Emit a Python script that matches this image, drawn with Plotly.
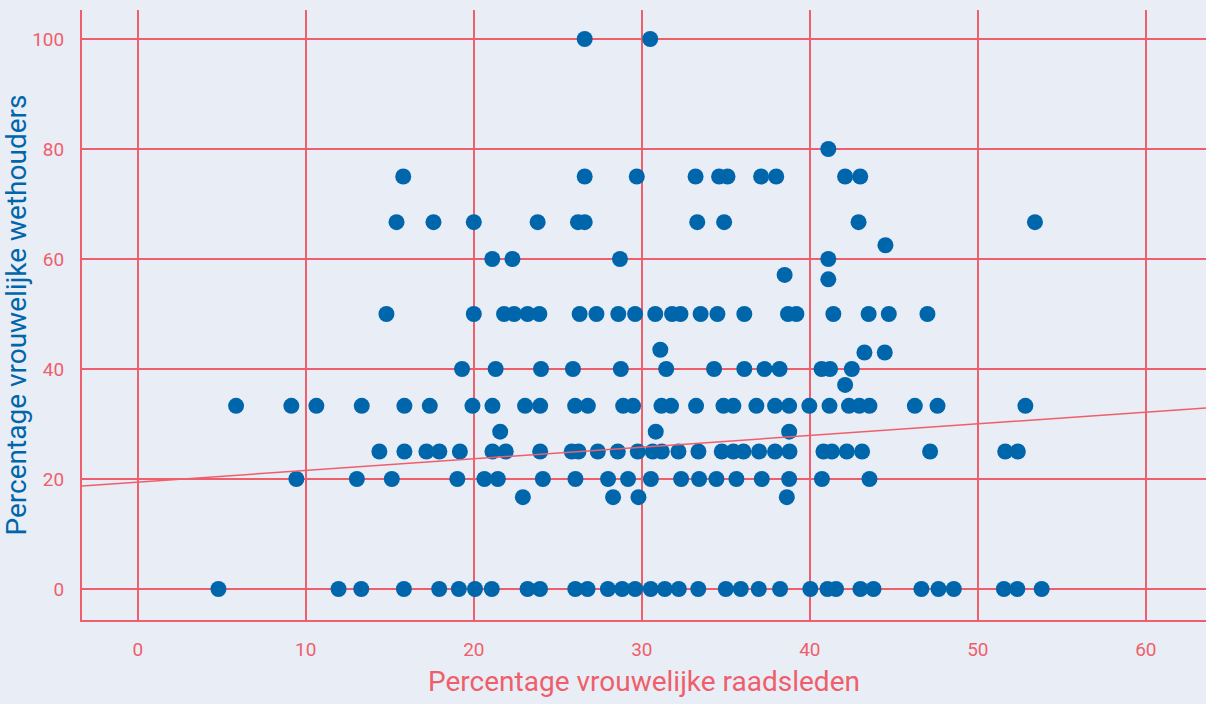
import plotly.graph_objects as go

# ---- data ----
x_at_100 = [26.6, 30.5]
x_at_80 = [41.1]
x_at_75 = [15.8, 26.6, 29.7, 33.2, 34.6, 35.1, 37.1, 38.0, 42.1, 43.0]
x_at_66 = [15.4, 17.6, 20.0, 23.8, 26.2, 26.6, 33.3, 34.9, 42.9, 53.4]
x_at_62 = [44.5]
x_at_60 = [21.1, 22.3, 28.7, 41.1]
x_at_57 = [38.5]
x_at_56 = [41.1]
x_at_50 = [14.8, 20.0, 21.8, 22.4, 23.2, 23.9, 26.3, 27.3, 28.6, 29.6, 30.8,
           31.8, 32.3, 33.5, 34.5, 36.1, 38.7, 39.2, 41.4, 43.5, 44.7, 47.0]
x_at_435 = [31.1]
x_at_43 = [43.25, 44.46]
x_at_40 = [19.3, 21.3, 24.0, 25.9, 28.75, 31.45, 34.3, 36.1, 37.3, 38.2, 40.7, 41.2, 42.5]
x_at_37 = [42.1]
x_at_33 = [5.85, 9.14, 10.63, 13.33, 15.87, 17.38, 19.92, 21.11, 23.05, 23.95,
           26.03, 26.79, 28.89, 29.48, 31.17, 31.74, 33.23, 34.86, 35.45, 36.82,
           37.93, 38.77, 39.97, 41.17, 42.33, 42.95, 43.55, 46.25, 47.6, 52.83]
x_at_28 = [21.57, 30.83, 38.77]
x_at_25 = [14.38, 15.87, 17.18, 17.95, 19.17, 21.11, 21.9, 23.95, 25.83, 26.23,
           27.38, 28.57, 29.76, 30.65, 31.19, 32.18, 33.37, 34.76, 35.45, 36.05,
           36.98, 37.93, 38.79, 40.81, 41.31, 42.2, 43.11, 47.16, 51.63, 52.38]
x_at_20 = [9.44, 13.04, 15.12, 19.02, 20.63, 21.43, 24.11, 26.05, 27.99, 29.18,
           30.54, 32.34, 33.41, 34.44, 35.63, 37.14, 38.77, 40.72, 43.55]
x_at_16 = [22.92, 28.29, 29.8, 38.63]
x_at_0 = [4.8, 11.95, 13.3, 15.84, 17.94, 19.11, 20.07, 21.07, 23.2, 23.94, 26.04,
          26.77, 27.98, 28.83, 29.6, 30.53, 31.37, 32.2, 33.36, 35.0, 35.89, 36.96,
          38.23, 40.03, 41.05, 41.56, 43.01, 43.79, 46.64, 47.66, 48.57, 51.55,
          52.35, 53.8]

levels = [
    (100, x_at_100), (80, x_at_80), (75, x_at_75), (66.7, x_at_66), (62.5, x_at_62),
    (60, x_at_60), (57.1, x_at_57), (56.3, x_at_56), (50, x_at_50), (43.5, x_at_435),
    (43, x_at_43), (40, x_at_40), (37.1, x_at_37), (33.3, x_at_33), (28.6, x_at_28),
    (25, x_at_25), (20, x_at_20), (16.7, x_at_16), (0, x_at_0),
]

pct_raadsleden = []
pct_wethouders = []
for yv, xs in levels:
    pct_raadsleden += xs
    pct_wethouders += [yv] * len(xs)

trend_intercept = 19.43
trend_slope = 0.212
x_range = [-3.32, 63.58]
y_range = [-5.64, 105.27]
trend_x = x_range
trend_y = [trend_intercept + trend_slope * v for v in trend_x]

x_ticks = [0, 10, 20, 30, 40, 50, 60]
y_ticks = [0, 20, 40, 60, 80, 100]

RED = "#EF5F6B"
BLUE = "#0066AB"
BG = "#E9EDF6"
FONT = "Roboto"

fig = go.Figure()
fig.add_trace(go.Scatter(
    x=pct_raadsleden, y=pct_wethouders, mode="markers",
    marker=dict(size=16, color=BLUE, line=dict(width=0)),
    hoverinfo="x+y", showlegend=False,
))
fig.add_trace(go.Scatter(
    x=trend_x, y=trend_y, mode="lines",
    line=dict(color=RED, width=1.5), showlegend=False, hoverinfo="skip",
))

fig.update_layout(
    width=1206, height=704,
    margin=dict(l=82, r=0, t=10, b=84),
    paper_bgcolor=BG, plot_bgcolor=BG,
    font=dict(family=FONT, color=RED, size=18),
)
fig.update_xaxes(
    range=x_range, tickvals=x_ticks, showgrid=True, gridcolor=RED, gridwidth=1.5,
    zeroline=False, showline=True, linecolor=RED, linewidth=2,
    ticks="", ticklabelstandoff=11,
    tickfont=dict(family=FONT, size=19, color=RED),
    title=dict(text="Percentage vrouwelijke raadsleden",
               font=dict(family=FONT, size=28, color=RED), standoff=12),
)
fig.update_yaxes(
    range=y_range, tickvals=y_ticks, showgrid=True, gridcolor=RED, gridwidth=1.5,
    zeroline=False, showline=True, linecolor=RED, linewidth=2,
    ticks="", ticklabelstandoff=12,
    tickfont=dict(family=FONT, size=19, color=RED),
    title=dict(text="Percentage vrouwelijke wethouders",
               font=dict(family=FONT, size=28, color=BLUE), standoff=12),
)

fig.write_html(
    "out.html",
    config={"displayModeBar": False},
    post_script="document.body.style.margin='0';document.body.style.overflow='hidden';document.body.style.background='%s';" % BG,
)
